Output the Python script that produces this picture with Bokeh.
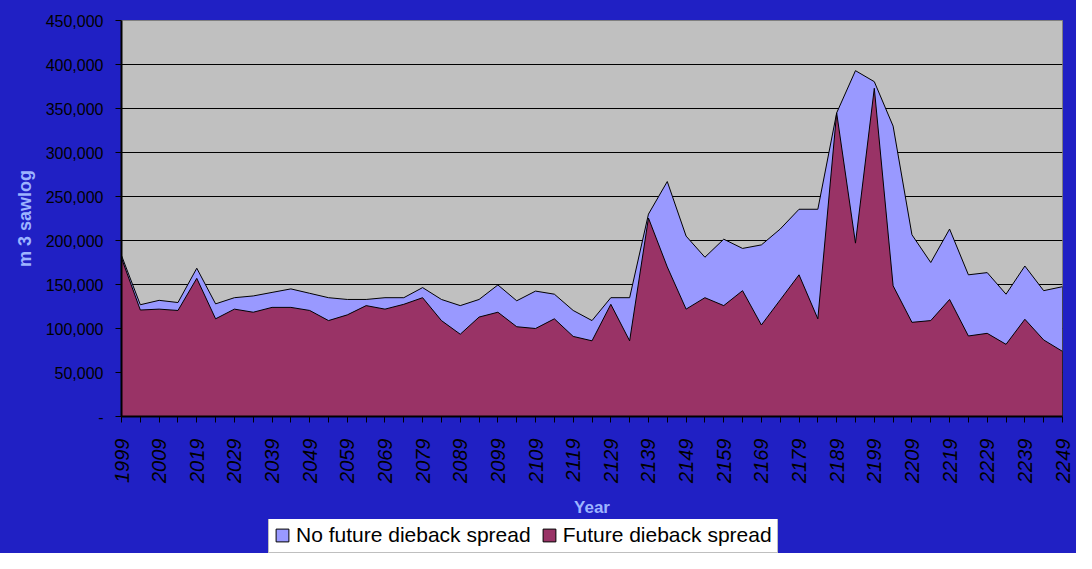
from bokeh.plotting import figure
from bokeh.layouts import column
from bokeh.models import (Range1d, FixedTicker, NumeralTickFormatter, Legend, LegendItem)
from bokeh.embed import file_html
from bokeh.resources import INLINE

years = [1999, 2004, 2009, 2014, 2019, 2024, 2029, 2034, 2039, 2044, 2049, 2054,
         2059, 2064, 2069, 2074, 2079, 2084, 2089, 2094, 2099, 2104, 2109, 2114,
         2119, 2124, 2129, 2134, 2139, 2144, 2149, 2154, 2159, 2164, 2169, 2174,
         2179, 2184, 2189, 2194, 2199, 2204, 2209, 2214, 2219, 2224, 2229, 2234,
         2239, 2244, 2249]
no_spread = [183000, 127000, 132000, 129500, 168500, 128000, 135000, 137000, 141000,
             145000, 140000, 135000, 133000, 133000, 135000, 135000, 146500, 133000,
             126000, 133000, 149500, 131500, 142500, 139000, 120500, 109000, 135000,
             135000, 230000, 267000, 205000, 181000, 201500, 191000, 195000, 213000,
             235500, 235500, 345000, 393000, 380500, 330000, 206500, 175000, 213000,
             161000, 163500, 139000, 171000, 143000, 147500]
spread = [180000, 121000, 122000, 120500, 157000, 111000, 122000, 118500, 124000,
          124000, 120500, 109000, 115500, 126000, 122000, 127500, 135000, 109000,
          93500, 113000, 118500, 102000, 100000, 111000, 91000, 86000, 127500,
          86000, 225500, 170000, 122000, 135000, 126000, 143000, 104000, 132500,
          161000, 111000, 345000, 197000, 373000, 148500, 107000, 109000, 133000,
          91500, 94500, 82000, 110500, 87000, 74000]
series_names = ["No future dieback spread", "Future dieback spread"]
series_colors = ["#9999ff", "#993366"]
y_ticks = [0, 50000, 100000, 150000, 200000, 250000, 300000, 350000, 400000, 450000]
labelled_years = years[::2]

BG = "#2020c4"
LABEL_BLUE = "#9db4ff"

p = figure(width=1076, height=519, output_backend="svg", toolbar_location=None,
           x_range=Range1d(years[0], years[-1]), y_range=Range1d(0, 450000),
           min_border_left=121, min_border_right=14, min_border_top=20,
           min_border_bottom=100)
p.background_fill_color = "#c0c0c0"
p.border_fill_color = BG
p.outline_line_color = "#808080"
p.outline_line_width = 1


def closed(xs, ys):
    return xs + [xs[-1], xs[0]], ys + [0, 0]


xa, ya = closed(years, no_spread)
p.patch(xa, ya, fill_color=series_colors[0], line_color="black", line_width=1)
xb, yb = closed(years, spread)
p.patch(xb, yb, fill_color=series_colors[1], line_color="black", line_width=1)

# grid
p.xgrid.visible = False
p.ygrid.ticker = FixedTicker(ticks=y_ticks)
p.ygrid.grid_line_color = "black"
p.ygrid.grid_line_width = 1

# y axis
p.yaxis.ticker = FixedTicker(ticks=y_ticks)
p.yaxis.formatter = NumeralTickFormatter(format="0,0")
p.yaxis.major_label_overrides = {0: "-"}
p.yaxis.major_label_text_font = "Liberation Sans"
p.yaxis.major_label_text_font_size = "16px"
p.yaxis.major_label_text_color = "black"
p.yaxis.major_label_standoff = 12
p.yaxis.axis_line_color = "black"
p.yaxis.axis_line_width = 2
p.yaxis.major_tick_line_color = "black"
p.yaxis.major_tick_out = 6
p.yaxis.major_tick_in = 0
p.yaxis.minor_tick_line_color = None
p.yaxis.axis_label = "m 3 sawlog"
p.yaxis.axis_label_text_font = "Liberation Sans"
p.yaxis.axis_label_text_font_style = "bold"
p.yaxis.axis_label_text_font_size = "18px"
p.yaxis.axis_label_text_color = LABEL_BLUE
p.yaxis.axis_label_standoff = 8

# x axis
p.xaxis.ticker = FixedTicker(ticks=years)
p.xaxis.major_label_overrides = {y: (str(y) if y in labelled_years else "") for y in years}
p.xaxis.major_label_orientation = 1.5708
p.xaxis.major_label_text_font = "Liberation Sans"
p.xaxis.major_label_text_font_style = "italic"
p.xaxis.major_label_text_font_size = "20px"
p.xaxis.major_label_text_color = "black"
p.xaxis.major_label_standoff = 16
p.xaxis.axis_line_color = "black"
p.xaxis.axis_line_width = 2
p.xaxis.major_tick_line_color = "black"
p.xaxis.major_tick_out = 6
p.xaxis.major_tick_in = 0
p.xaxis.minor_tick_line_color = None
p.xaxis.axis_label = "Year"
p.xaxis.axis_label_text_font = "Liberation Sans"
p.xaxis.axis_label_text_font_style = "bold"
p.xaxis.axis_label_text_font_size = "17px"
p.xaxis.axis_label_text_color = LABEL_BLUE
p.xaxis.axis_label_standoff = 12

# legend strip (separate figure so the legend sits below the axis title)
lg = figure(width=1076, height=34, output_backend="svg", toolbar_location=None,
            x_range=Range1d(0, 1), y_range=Range1d(0, 1),
            min_border=0, min_border_left=0, min_border_right=0,
            min_border_top=0, min_border_bottom=0)
lg.axis.visible = False
lg.grid.visible = False
lg.background_fill_alpha = 0
lg.border_fill_alpha = 0
lg.outline_line_color = None
# same series, drawn outside this strip's view; used only for the legend swatches
la = lg.patch(xa, ya, fill_color=series_colors[0], line_color="black", line_width=1)
lb = lg.patch(xb, yb, fill_color=series_colors[1], line_color="black", line_width=1)

legend = Legend(items=[LegendItem(label=series_names[0], renderers=[la]),
                       LegendItem(label=series_names[1], renderers=[lb])],
                orientation="horizontal", location=(147, 0),
                label_text_font="Liberation Sans", label_text_font_size="21px",
                label_text_color="black", background_fill_color="white",
                background_fill_alpha=1.0, border_line_color="#808080",
                glyph_width=16, glyph_height=16, spacing=10, padding=5,
                label_standoff=6, margin=0, label_height=22)
lg.add_layout(legend, "center")

layout = column(p, lg, spacing=0, styles={"background-color": BG})
open("out.html", "w").write(file_html(layout, INLINE))
